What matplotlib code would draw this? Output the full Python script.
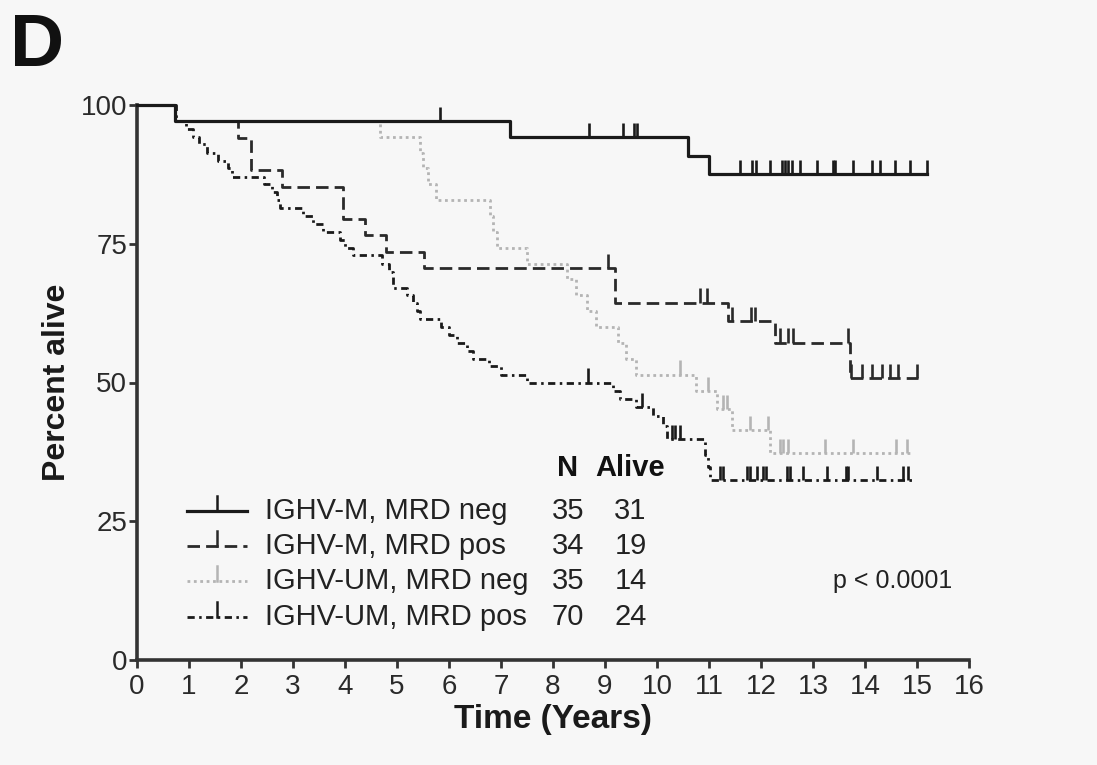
import numpy as np
import matplotlib
matplotlib.use("Agg")
import matplotlib.pyplot as plt

plt.rcParams['font.family'] = ['Liberation Sans', 'DejaVu Sans']

# ---------------- data ----------------
series_names = ["IGHV-M, MRD neg", "IGHV-M, MRD pos", "IGHV-UM, MRD neg", "IGHV-UM, MRD pos"]
series_n = [35, 34, 35, 70]
series_alive = [31, 19, 14, 24]

mneg_t = [0, 0.73, 7.17, 10.6, 11.0, 15.2]
mneg_s = [100, 97.1, 94.2, 90.8, 87.5, 87.5]
mneg_c = [5.83, 8.7, 9.35, 9.56, 9.62, 11.6, 11.83, 11.9, 12.17, 12.4, 12.46, 12.52,
          12.6, 12.75, 13.08, 13.38, 13.42, 13.77, 14.13, 14.29, 14.58, 14.87, 15.19]

mpos_t = [0, 0.73, 1.95, 2.2, 2.78, 3.96, 4.38, 4.78, 5.52, 9.19, 11.37, 12.27, 13.71, 15.02]
mpos_s = [100, 97.1, 94.1, 88.2, 85.3, 79.4, 76.5, 73.5, 70.6, 64.4, 61.0, 57.2, 50.8, 50.8]
mpos_c = [9.05, 10.83, 10.96, 11.45, 11.8, 11.88, 12.37, 12.52, 12.62, 13.67,
          13.74, 13.94, 14.13, 14.33, 14.48, 14.64, 15.0]

umneg_t = [0, 0.73, 4.67, 5.44, 5.5, 5.6, 5.75, 6.79, 6.85, 6.92, 7.5, 8.27, 8.45, 8.65,
           8.82, 9.25, 9.4, 9.6, 10.75, 11.15, 11.45, 12.17, 14.87]
umneg_s = [100, 97.1, 94.3, 91.4, 88.6, 85.7, 82.9, 80.0, 77.1, 74.3, 71.4, 68.6, 65.7, 62.9,
           60.0, 57.1, 54.3, 51.4, 48.4, 45.2, 41.4, 37.3, 37.3]
umneg_c = [10.44, 10.98, 11.27, 11.35, 11.79, 12.13, 12.37, 12.42, 12.52, 13.23, 13.77, 14.6, 14.8]

umpos_t = [0, 0.75, 0.95, 1.08, 1.2, 1.34, 1.56, 1.75, 1.82, 2.45, 2.6, 2.69, 2.75, 3.2, 3.39,
           3.58, 3.9, 4.0, 4.15, 4.72, 4.85, 4.93, 5.2, 5.31, 5.38, 5.44, 5.85, 6.0, 6.15, 6.35,
           6.47, 6.76, 7.0, 7.5, 9.16, 9.29, 9.6, 9.93, 10.12, 10.2, 10.92, 10.98, 11.02, 14.92]
umpos_s = [100, 97.1, 95.7, 94.3, 92.9, 91.4, 90.0, 88.6, 87.1, 85.7, 84.3, 82.9, 81.4, 80.0, 78.6,
           77.1, 75.7, 74.3, 72.9, 71.4, 70.0, 67.1, 65.7, 64.3, 62.9, 61.4, 60.0, 58.6, 57.1, 55.7,
           54.3, 52.9, 51.4, 50.0, 48.5, 47.0, 45.5, 43.9, 42.2, 39.8, 37.0, 34.7, 32.4, 32.4]
umpos_c = [8.68, 9.72, 10.28, 10.35, 10.44, 11.21, 11.27, 11.73, 11.79, 11.92, 12.04, 12.1,
           12.5, 12.55, 12.81, 13.27, 13.63, 13.68, 14.23, 14.73, 14.83]

x_ticks = list(range(0, 17))
y_ticks = [0, 25, 50, 75, 100]
p_text = "p < 0.0001"

# ---------------- styles ----------------
bg = '#f7f7f7'
styles = [
    dict(color='#1a1a1a', ls='-', lw=2.3),
    dict(color='#2a2a2a', ls=(0, (4.5, 2.2)), lw=2.0),
    dict(color='#b4b4b4', ls=(0, (1.0, 1.3)), lw=2.0),
    dict(color='#1a1a1a', ls=(0, (2.6, 1.6, 0.9, 1.6)), lw=2.0),
]
tick_h = 2.6  # censor tick height in percent units

fig = plt.figure(figsize=(10.97, 7.65), dpi=100, facecolor=bg)
ax = fig.add_axes([137/1097, 1-660/765, 832/1097, 555/765], facecolor=bg)

curves = [(mneg_t, mneg_s, mneg_c), (mpos_t, mpos_s, mpos_c),
          (umneg_t, umneg_s, umneg_c), (umpos_t, umpos_s, umpos_c)]

order = [2, 3, 1, 0]
for i in order:
    t, s, c = curves[i]
    st = styles[i]
    ax.step(t, s, where='post', color=st['color'], linestyle=st['ls'], lw=st['lw'],
            clip_on=False, zorder=3 + (i == 0))
    t_arr = np.asarray(t)
    s_arr = np.asarray(s)
    idx = np.searchsorted(t_arr, np.asarray(c), side='right') - 1
    yc = s_arr[idx]
    ax.vlines(c, yc, yc + tick_h, color=st['color'], lw=1.9, zorder=3 + (i == 0), clip_on=False)

ax.set_xlim(0, 16)
ax.set_ylim(0, 100)
ax.set_xticks(x_ticks)
ax.set_yticks(y_ticks)
ax.tick_params(direction='out', length=6, width=2.0, color='#333333', labelsize=20,
               labelcolor='#2a2a2a')
ax.tick_params(axis='x', pad=4)
ax.tick_params(axis='y', pad=1)
for sp in ['top', 'right']:
    ax.spines[sp].set_visible(False)
for sp in ['left', 'bottom']:
    ax.spines[sp].set_linewidth(2.6)
    ax.spines[sp].set_color('#333333')

ax.set_xlabel("Time (Years)", fontsize=24, fontweight='bold', color='#1a1a1a', labelpad=3)
ax.set_ylabel("Percent alive", fontsize=23, fontweight='bold', color='#1a1a1a', labelpad=6)

# panel letter
fig.text(10/1097, 1-66/765, "D", fontsize=54, fontweight='bold', color='#111111',
         ha='left', va='baseline')

# legend block
sample_x0, sample_x1 = 0.060, 0.132
row_y = [0.268, 0.205, 0.142, 0.077]
text_x = 0.154
n_x, alive_x = 0.518, 0.593
for i in range(4):
    st = styles[i]
    ax.plot([sample_x0, sample_x1], [row_y[i], row_y[i]], transform=ax.transAxes,
            color=st['color'], linestyle=st['ls'], lw=st['lw'], clip_on=False)
    xm = (sample_x0 + sample_x1) / 2
    ax.plot([xm, xm], [row_y[i], row_y[i] + 0.028], transform=ax.transAxes,
            color=st['color'], lw=1.8, clip_on=False)
    ax.text(text_x, row_y[i], series_names[i], transform=ax.transAxes, fontsize=21,
            va='center', ha='left', color='#222222')
    ax.text(n_x, row_y[i], str(series_n[i]), transform=ax.transAxes, fontsize=21,
            va='center', ha='center', color='#222222')
    ax.text(alive_x, row_y[i], str(series_alive[i]), transform=ax.transAxes, fontsize=21,
            va='center', ha='center', color='#222222')
ax.text(n_x, 0.346, "N", transform=ax.transAxes, fontsize=21, fontweight='bold',
        va='center', ha='center', color='#111111')
ax.text(alive_x, 0.346, "Alive", transform=ax.transAxes, fontsize=21, fontweight='bold',
        va='center', ha='center', color='#111111')
ax.text(0.837, 0.142, p_text, transform=ax.transAxes, fontsize=18, va='center',
        ha='left', color='#222222')

fig.savefig("out.png", dpi=100, facecolor=bg)
